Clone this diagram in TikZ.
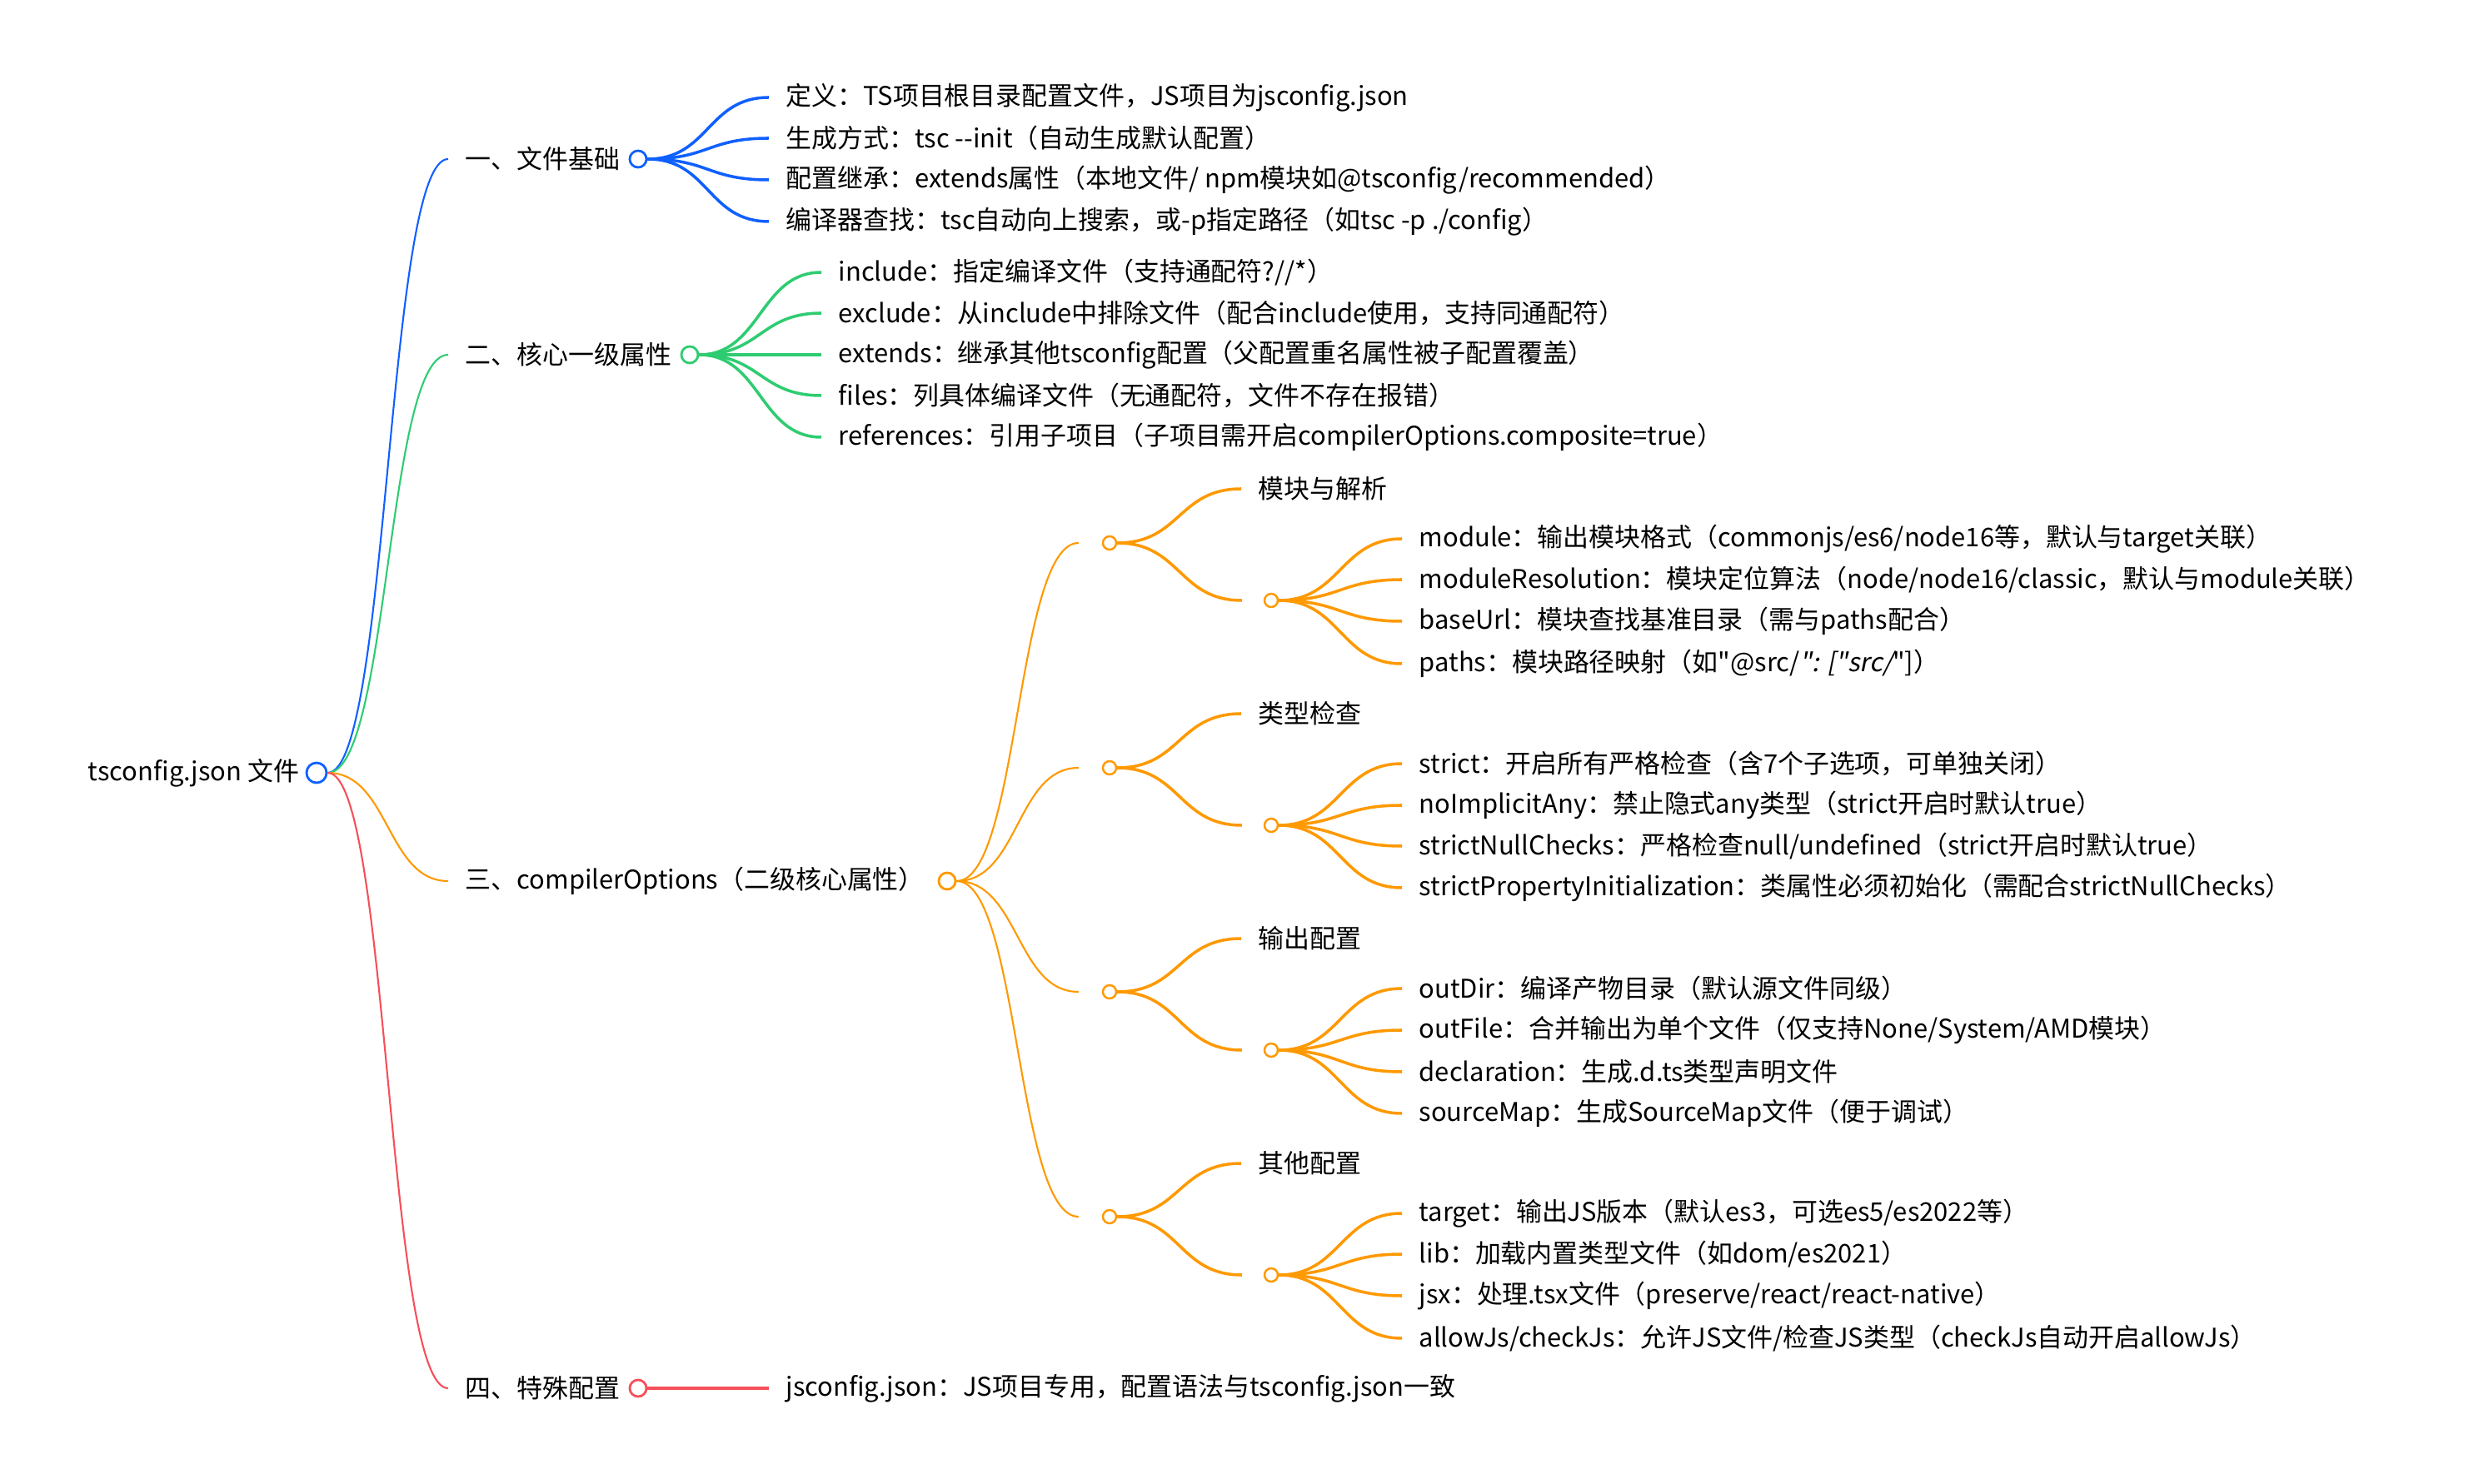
\documentclass[tikz,border=0pt]{standalone}
\usepackage{fontspec}
\setmainfont[AutoFakeSlant=0.2]{Noto Sans CJK SC}
\usepackage{xcolor}
\usetikzlibrary{positioning}

\definecolor{mmblue}{RGB}{16,96,255}
\definecolor{mmgreen}{RGB}{46,204,113}
\definecolor{mmorange}{RGB}{255,153,0}
\definecolor{mmred}{RGB}{245,80,90}

\begin{document}
\begin{tikzpicture}[
font=\fontsize{8.8pt}{10.5pt}\selectfont,
txt/.style={
anchor=west,
inner xsep=0.2cm,
inner ysep=0.05cm
},
dot/.style={
circle,
draw=#1,
fill=white,
line width=0.8pt,
inner sep=0pt,
minimum size=0.2cm
},
smalldot/.style={
circle,
draw=#1,
fill=white,
line width=0.7pt,
inner sep=0pt,
minimum size=0.16cm
},
branch/.style={to path={.. controls +(#1,0) and +(-#1,0) .. (\tikztotarget)}},
stem/.style={draw=#1,line width=0.6pt},
twig/.style={draw=#1,line width=1pt}
]

\useasboundingbox (0,0) rectangle (29.64,-17.82);

%---------------- Root ----------------%

\node[dot=mmblue,minimum size=0.24cm] (rootdot) at (3.80,-9.28) {};
\node[txt,anchor=east] (root) at (3.80,-9.28) {tsconfig.json 文件};

\node[txt] (basics) at (5.38,-1.91) {一、文件基础};
\node[dot=mmblue] (basicsdot) at (7.66,-1.91) {};

\node[txt] (core) at (5.38,-4.26) {二、核心一级属性};
\node[dot=mmgreen] (coredot) at (8.28,-4.26) {};

\node[txt] (compiler) at (5.38,-10.58) {三、compilerOptions（二级核心属性）};
\node[dot=mmorange] (compilerdot) at (11.37,-10.58) {};

\node[txt] (special) at (5.38,-16.67) {四、特殊配置};
\node[dot=mmred] (specialdot) at (7.66,-16.67) {};

%---------------- Basics ----------------%

\node[txt] (b1) at (9.23,-1.17) {定义：TS项目根目录配置文件，JS项目为jsconfig.json};
\node[txt] (b2) at (9.23,-1.66) {生成方式：tsc -{}-init（自动生成默认配置）};
\node[txt] (b3) at (9.23,-2.16) {配置继承：extends属性（本地文件/ npm模块如@tsconfig/recommended）};
\node[txt] (b4) at (9.23,-2.66) {编译器查找：tsc自动向上搜索，或-p指定路径（如tsc -p ./config）};

%---------------- Core ----------------%

\node[txt] (c1) at (9.86,-3.27) {include：指定编译文件（支持通配符?//*）};
\node[txt] (c2) at (9.86,-3.76) {exclude：从include中排除文件（配合include使用，支持同通配符）};
\node[txt] (c3) at (9.86,-4.26) {extends：继承其他tsconfig配置（父配置重名属性被子配置覆盖）};
\node[txt] (c4) at (9.86,-4.75) {files：列具体编译文件（无通配符，文件不存在报错）};
\node[txt] (c5) at (9.86,-5.25) {references：引用子项目（子项目需开启compilerOptions.composite=true）};

%---------------- compilerOptions ----------------%

\node[smalldot=mmorange] (modsub) at (13.32,-6.52) {};
\node[txt] (modlbl) at (14.90,-5.87) {模块与解析};
\node[smalldot=mmorange] (modhub) at (15.26,-7.21) {};
\node[txt] (m1) at (16.83,-6.47) {module：输出模块格式（commonjs/es6/node16等，默认与target关联）};
\node[txt] (m2) at (16.83,-6.96) {moduleResolution：模块定位算法（node/node16/classic，默认与module关联）};
\node[txt] (m3) at (16.83,-7.46) {baseUrl：模块查找基准目录（需与paths配合）};
\node[txt] (m4) at (16.83,-7.97) {paths：模块路径映射（如\textquotedbl @src/\textit{\textquotedbl: [\textquotedbl src/}\textquotedbl]）};

\node[smalldot=mmorange] (typsub) at (13.32,-9.22) {};
\node[txt] (typlbl) at (14.90,-8.57) {类型检查};
\node[smalldot=mmorange] (typhub) at (15.26,-9.91) {};
\node[txt] (t1) at (16.83,-9.17) {strict：开启所有严格检查（含7个子选项，可单独关闭）};
\node[txt] (t2) at (16.83,-9.67) {noImplicitAny：禁止隐式any类型（strict开启时默认true）};
\node[txt] (t3) at (16.83,-10.16) {strictNullChecks：严格检查null/undefined（strict开启时默认true）};
\node[txt] (t4) at (16.83,-10.66) {strictPropertyInitialization：类属性必须初始化（需配合strictNullChecks）};

\node[smalldot=mmorange] (outsub) at (13.32,-11.91) {};
\node[txt] (outlbl) at (14.90,-11.27) {输出配置};
\node[smalldot=mmorange] (outhub) at (15.26,-12.61) {};
\node[txt] (o1) at (16.83,-11.87) {outDir：编译产物目录（默认源文件同级）};
\node[txt] (o2) at (16.83,-12.37) {outFile：合并输出为单个文件（仅支持None/System/AMD模块）};
\node[txt] (o3) at (16.83,-12.87) {declaration：生成.d.ts类型声明文件};
\node[txt] (o4) at (16.83,-13.37) {sourceMap：生成SourceMap文件（便于调试）};

\node[smalldot=mmorange] (othsub) at (13.32,-14.61) {};
\node[txt] (othlbl) at (14.90,-13.97) {其他配置};
\node[smalldot=mmorange] (othhub) at (15.26,-15.31) {};
\node[txt] (x1) at (16.83,-14.57) {target：输出JS版本（默认es3，可选es5/es2022等）};
\node[txt] (x2) at (16.83,-15.06) {lib：加载内置类型文件（如dom/es2021）};
\node[txt] (x3) at (16.83,-15.56) {jsx：处理.tsx文件（preserve/react/react-native）};
\node[txt] (x4) at (16.83,-16.07) {allowJs/checkJs：允许JS文件/检查JS类型（checkJs自动开启allowJs）};

%---------------- Special ----------------%

\node[txt] (sp1) at (9.23,-16.67) {jsconfig.json：JS项目专用，配置语法与tsconfig.json一致};

%---------------- Connections ----------------%

\draw[stem=mmblue] (rootdot.east) to[branch=0.74] (basics.west);
\draw[stem=mmgreen] (rootdot.east) to[branch=0.74] (core.west);
\draw[stem=mmorange] (rootdot.east) to[branch=0.74] (compiler.west);
\draw[stem=mmred] (rootdot.east) to[branch=0.74] (special.west);

\draw[twig=mmblue] (basicsdot.east) to[branch=0.74] (b1.west);
\draw[twig=mmblue] (basicsdot.east) to[branch=0.74] (b2.west);
\draw[twig=mmblue] (basicsdot.east) to[branch=0.74] (b3.west);
\draw[twig=mmblue] (basicsdot.east) to[branch=0.74] (b4.west);

\draw[twig=mmgreen] (coredot.east) to[branch=0.74] (c1.west);
\draw[twig=mmgreen] (coredot.east) to[branch=0.74] (c2.west);
\draw[twig=mmgreen] (coredot.east) to[branch=0.74] (c3.west);
\draw[twig=mmgreen] (coredot.east) to[branch=0.74] (c4.west);
\draw[twig=mmgreen] (coredot.east) to[branch=0.74] (c5.west);

\draw[stem=mmorange] (compilerdot.east) to[branch=0.75] ([xshift=-0.28cm]modsub.west);
\draw[stem=mmorange] (compilerdot.east) to[branch=0.75] ([xshift=-0.28cm]typsub.west);
\draw[stem=mmorange] (compilerdot.east) to[branch=0.75] ([xshift=-0.28cm]outsub.west);
\draw[stem=mmorange] (compilerdot.east) to[branch=0.75] ([xshift=-0.28cm]othsub.west);

\draw[twig=mmorange] (modsub.east) to[branch=0.76] (modlbl.west);
\draw[twig=mmorange] (modsub.east) to[branch=0.76] ([xshift=-0.26cm]modhub.west);
\draw[twig=mmorange] (typsub.east) to[branch=0.76] (typlbl.west);
\draw[twig=mmorange] (typsub.east) to[branch=0.76] ([xshift=-0.26cm]typhub.west);
\draw[twig=mmorange] (outsub.east) to[branch=0.76] (outlbl.west);
\draw[twig=mmorange] (outsub.east) to[branch=0.76] ([xshift=-0.26cm]outhub.west);
\draw[twig=mmorange] (othsub.east) to[branch=0.76] (othlbl.west);
\draw[twig=mmorange] (othsub.east) to[branch=0.76] ([xshift=-0.26cm]othhub.west);

\draw[twig=mmorange] (modhub.east) to[branch=0.74] (m1.west);
\draw[twig=mmorange] (modhub.east) to[branch=0.74] (m2.west);
\draw[twig=mmorange] (modhub.east) to[branch=0.74] (m3.west);
\draw[twig=mmorange] (modhub.east) to[branch=0.74] (m4.west);

\draw[twig=mmorange] (typhub.east) to[branch=0.74] (t1.west);
\draw[twig=mmorange] (typhub.east) to[branch=0.74] (t2.west);
\draw[twig=mmorange] (typhub.east) to[branch=0.74] (t3.west);
\draw[twig=mmorange] (typhub.east) to[branch=0.74] (t4.west);

\draw[twig=mmorange] (outhub.east) to[branch=0.74] (o1.west);
\draw[twig=mmorange] (outhub.east) to[branch=0.74] (o2.west);
\draw[twig=mmorange] (outhub.east) to[branch=0.74] (o3.west);
\draw[twig=mmorange] (outhub.east) to[branch=0.74] (o4.west);

\draw[twig=mmorange] (othhub.east) to[branch=0.74] (x1.west);
\draw[twig=mmorange] (othhub.east) to[branch=0.74] (x2.west);
\draw[twig=mmorange] (othhub.east) to[branch=0.74] (x3.west);
\draw[twig=mmorange] (othhub.east) to[branch=0.74] (x4.west);

\draw[twig=mmred] (specialdot.east) -- (sp1.west);

\end{tikzpicture}
\end{document}
